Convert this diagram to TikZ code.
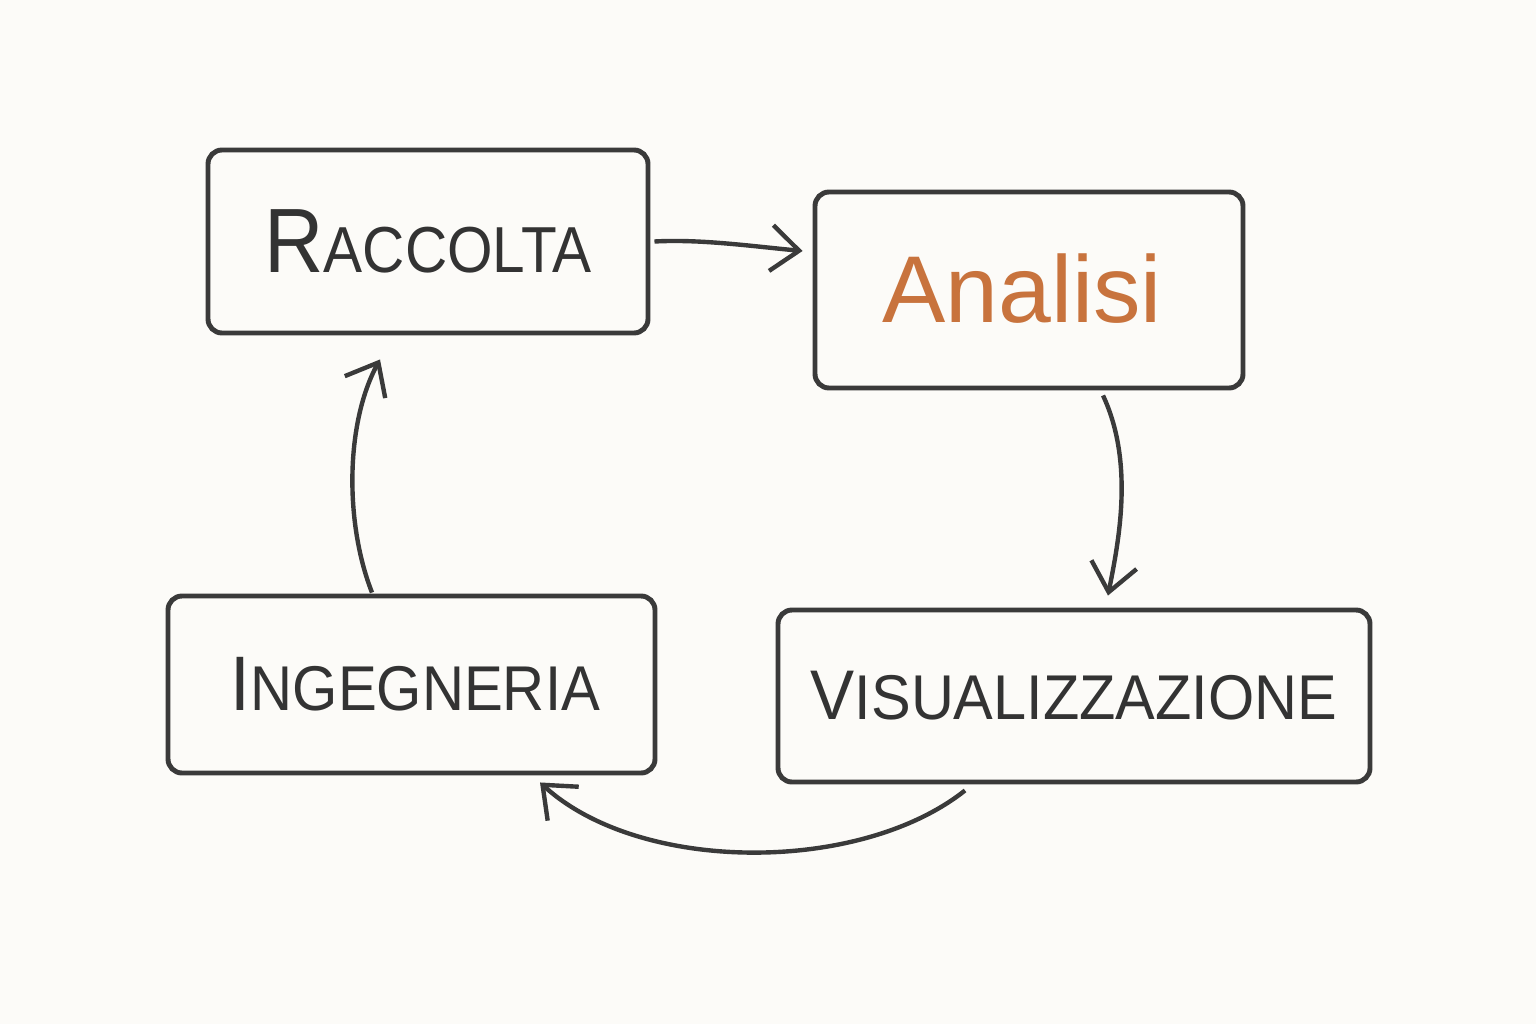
\documentclass[tikz,border=0pt]{standalone}
\usepackage{fontspec}
\setmainfont{Liberation Sans}
\usetikzlibrary{arrows.meta,calc}
\definecolor{paper}{HTML}{FCFBF8}
\definecolor{pencil}{HTML}{3A3A3A}
\definecolor{ink}{HTML}{333333}
\definecolor{orangeink}{HTML}{C8733D}
\newcommand{\bigsmall}[4]{{\fontsize{#1}{#1}\selectfont #3}{\fontsize{#2}{#2}\selectfont\MakeUppercase{#4}}}
\tikzset{
  box/.style={draw=pencil, line width=1.4pt, rounded corners=0.14cm, inner sep=0pt, text=ink, align=center},
  conn/.style={draw=pencil, line width=1.25pt, -{Straight Barb[length=0.28cm,width=0.46cm,line width=1.25pt]}}
}
\begin{document}
\begin{tikzpicture}
\useasboundingbox (0,0) rectangle (15.36,10.24);
\fill[paper] (0,0) rectangle (15.36,10.24);

\node[box, minimum width=4.40cm, minimum height=1.83cm] (rac) at (4.28,7.825)
  {\scalebox{0.9}[1]{\bigsmall{26}{18.5}{R}{accolta}}};
\node[box, minimum width=4.28cm, minimum height=1.96cm] (ana) at (10.29,7.34)
  {\hspace*{-0.14cm}\raisebox{0.04cm}{\fontsize{27}{27}\selectfont\color{orangeink}Analisi}};
\node[box, minimum width=4.87cm, minimum height=1.77cm] (ing) at (4.115,3.395)
  {\hspace*{0.08cm}\scalebox{0.92}[1]{\bigsmall{22}{18}{I}{ngegneria}}};
\node[box, minimum width=5.92cm, minimum height=1.72cm] (vis) at (10.74,3.28)
  {\scalebox{0.94}[1]{\bigsmall{20}{18}{V}{isualizzazione}}};

% Raccolta -> Analisi
\draw[conn] ([xshift=0.04cm]rac.east) .. controls (7.0,7.85) and (7.5,7.78) .. ($(ana.north west)!0.306!(ana.south west)+(-0.10,0)$);
% Analisi -> Visualizzazione
\draw[conn] ([shift={(0.74,-0.05)}]ana.south) .. controls (11.35,5.6) and (11.18,4.8) .. ([shift={(0.34,0.12)}]vis.north);
% Visualizzazione -> Ingegneria
\draw[conn] ([shift={(-1.09,-0.06)}]vis.south) .. controls (8.6,1.5) and (6.4,1.5) .. ([shift={(1.285,-0.07)}]ing.south);
% Ingegneria -> Raccolta
\draw[conn] ([shift={(-0.395,0.01)}]ing.north) .. controls (3.45,5.0) and (3.45,6.0) .. ([shift={(-0.48,-0.24)}]rac.south);
\end{tikzpicture}
\end{document}
